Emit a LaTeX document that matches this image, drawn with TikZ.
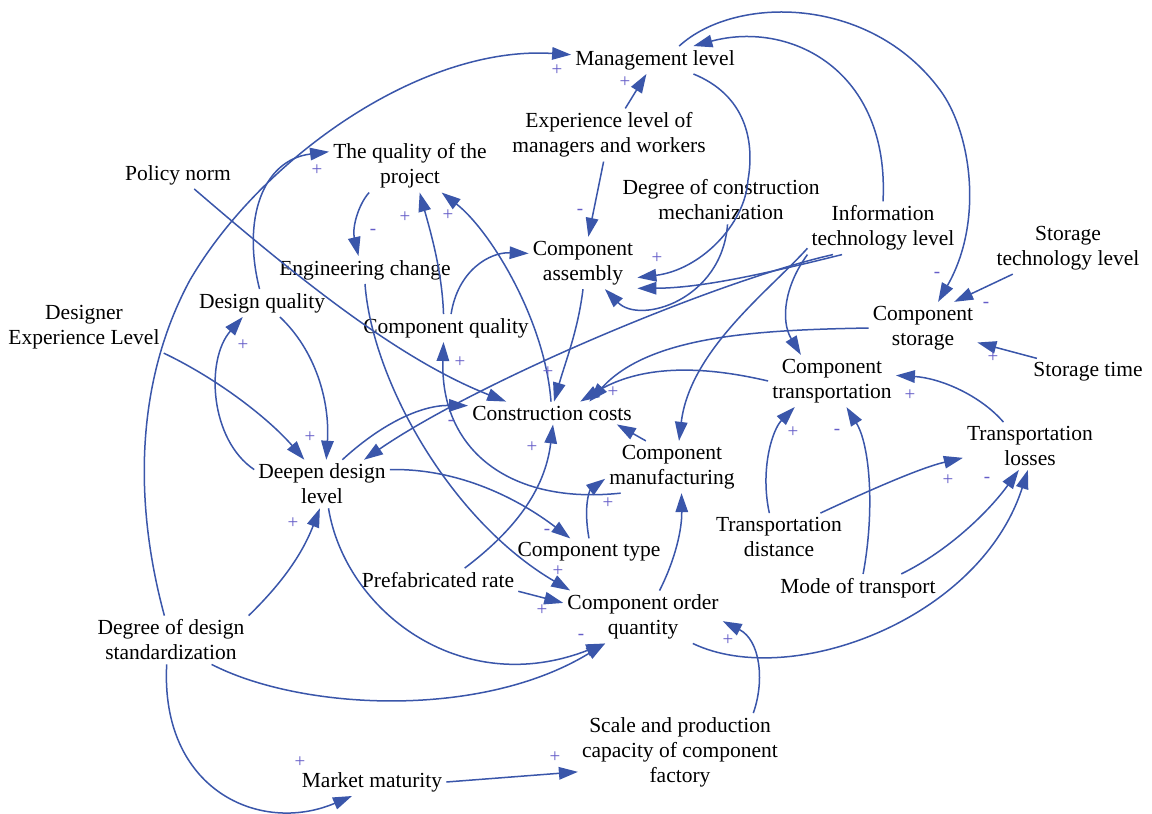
\documentclass[tikz,border=0pt]{standalone}
\usepackage{fontspec}
\setmainfont{Liberation Serif}
\usetikzlibrary{arrows.meta}
\definecolor{lnk}{RGB}{58,86,170}
\definecolor{sgn}{RGB}{100,92,200}
\begin{document}
\begin{tikzpicture}[x=1pt,y=-1pt,
  v/.style={font=\fontsize{21.5}{25}\selectfont, align=center, inner sep=4pt, text=black},
  arr/.style={draw=lnk, line width=1.5pt, -{Triangle[length=19pt,width=12.5pt]}},
  sg/.style={font=\fontsize{19}{19}\selectfont, text=sgn, inner sep=0pt}]
\useasboundingbox[fill=white] (0,0) rectangle (1152,814);
% variables
\node[v] (mgmt) at (655,60) {Management level};
\node[v] (exp) at (609,135) {Experience level of\\managers and workers};
\node[v] (qop) at (410,166) {The quality of the\\project};
\node[v] (policy) at (178,175) {Policy norm};
\node[v] (mech) at (721,200) {Degree of construction\\mechanization};
\node[v] (info) at (883,228) {Information\\technology level};
\node[v] (stech) at (1068,248) {Storage\\technology level};
\node[v] (assem) at (583,263) {Component\\assembly};
\node[v] (engch) at (365,270) {Engineering change};
\node[v] (dq) at (262,303) {Design quality};
\node[v] (dexp) at (84,327) {Designer\\Experience Level};
\node[v] (cq) at (446,328) {Component quality};
\node[v] (stor) at (923,328) {Component\\storage};
\node[v] (trans) at (832,381) {Component\\transportation};
\node[v] (stime) at (1088,372) {Storage time};
\node[v] (cost) at (552,413) {Construction costs};
\node[v] (deep) at (322,484) {Deepen design\\level};
\node[v] (manuf) at (672,467) {Component\\manufacturing};
\node[v] (tloss) at (1030,446) {Transportation\\losses};
\node[v] (tdist) at (779,537) {Transportation\\distance};
\node[v] (ctype) at (589,552) {Component type};
\node[v] (prefab) at (438,580) {Prefabricated rate};
\node[v] (mode) at (858,588) {Mode of transport};
\node[v] (order) at (643,617) {Component order\\quantity};
\node[v] (std) at (171,640) {Degree of design\\standardization};
\node[v] (scale) at (680,752) {Scale and production\\capacity of component\\factory};
\node[v] (market) at (372,782) {Market maturity};
% links
\draw[arr] (std) .. controls (133,500) and (136,380) .. (190,280) .. controls (260,160) and (420,45) .. (mgmt);
\draw[arr] (exp) -- (mgmt);
\draw[arr] (exp) -- (assem);
\draw[arr] (mgmt.-20) .. controls (745,95) and (755,140) .. (748,180) .. controls (745,225) and (700,270) .. (assem.-15);
\draw[arr] (mgmt.30) .. controls (735,-5) and (870,-5) .. (940,90) .. controls (970,130) and (985,220) .. (stor.60);
\draw[arr] (info.north) .. controls (890,70) and (790,20) .. (mgmt.20);
\draw[arr] (info.-147) .. controls (760,275) and (700,288) .. (assem.-25);
\draw[arr] (mech.-75) .. controls (722,300) and (640,325) .. (assem.-50);
\draw[arr] (info.-152) .. controls (720,280) and (480,380) .. (deep.30);
\draw[arr] (info.south west) .. controls (785,285) and (780,320) .. (trans.140);
\draw[arr] (info.-165) .. controls (770,290) and (690,350) .. (manuf.75);
\draw[arr] (stor.west) .. controls (760,330) and (650,335) .. (cost.17);
\draw[arr] (trans.west) .. controls (700,365) and (640,365) .. (cost.22);
\draw[arr] (assem.south) .. controls (578,330) and (566,360) .. (cost.80);
\draw[arr] (cost.95) .. controls (545,320) and (490,230) .. (qop.-40);
\draw[arr] (cq.100) .. controls (442,270) and (430,230) .. (qop.-70);
\draw[arr] (cq.70) .. controls (458,270) and (490,252) .. (assem.170);
\draw[arr] (qop.-147) .. controls (358,205) and (352,228) .. (engch.115);
\draw[arr] (engch.south) .. controls (372,380) and (450,520) .. (order.160);
\draw[arr] (prefab.-8) -- (order.170);
\draw[arr] (prefab.24) .. controls (515,530) and (545,490) .. (cost.-85);
\draw[arr] (dexp.south east) .. controls (220,380) and (270,420) .. (deep.126);
\draw[arr] (dq.-38) .. controls (315,350) and (330,400) .. (deep.80);
\draw[arr] (deep.168) .. controls (210,440) and (205,360) .. (dq.-144);
\draw[arr] (dq.100) .. controls (242,220) and (262,160) .. (qop.170);
\draw[arr] (policy) .. controls (300,280) and (400,360) .. (cost.166);
\draw[arr] (deep.50) .. controls (380,425) and (420,405) .. (cost.175);
\draw[arr] (std.north east) .. controls (275,590) and (300,560) .. (deep.-95);
\draw[arr] (deep.-75) .. controls (345,610) and (460,700) .. (order.-145);
\draw[arr] (std.-31) .. controls (300,710) and (480,720) .. (order.-145);
\draw[arr] (std.-100) .. controls (160,790) and (260,835) .. (market.-145);
\draw[arr] (market.east) -- (scale.-169);
\draw[arr] (scale.28) .. controls (765,680) and (760,640) .. (order.-3);
\draw[arr] (order.-28) .. controls (790,690) and (980,620) .. (tloss.-95);
\draw[arr] (mode.18) .. controls (950,550) and (990,510) .. (tloss.-115);
\draw[arr] (mode.70) .. controls (875,510) and (870,445) .. (trans.-61);
\draw[arr] (tdist.112) .. controls (760,470) and (772,430) .. (trans.-145);
\draw[arr] (tdist.30) .. controls (870,490) and (920,468) .. (tloss.-170);
\draw[arr] (tloss.138) .. controls (980,395) and (940,378) .. (trans.5);
\draw[arr] (stime) -- (stor);
\draw[arr] (stech) -- (stor.40);
\draw[arr] (manuf.135) -- (cost.-10);
\draw[arr] (manuf.-153) .. controls (510,505) and (440,450) .. (cq.-100);
\draw[arr] (ctype.north) .. controls (583,505) and (590,490) .. (manuf.-170);
\draw[arr] (deep.12) .. controls (460,468) and (520,500) .. (ctype.144);
\draw[arr] (order.58) .. controls (675,560) and (682,530) .. (manuf.-70);
% polarity signs
\node[sg] (s1) at (557,70) {+};
\node[sg] (s2) at (625,82) {+};
\node[sg] (s3) at (580,212) {-};
\node[sg] (s4) at (317,170) {+};
\node[sg] (s5) at (373,232) {-};
\node[sg] (s6) at (405,217) {+};
\node[sg] (s7) at (448,215) {+};
\node[sg] (s8) at (657,258) {+};
\node[sg] (s9) at (937,275) {-};
\node[sg] (s10) at (986,305) {-};
\node[sg] (s11) at (993,357) {+};
\node[sg] (s12) at (243,345) {+};
\node[sg] (s13) at (460,362) {+};
\node[sg] (s14) at (548,372) {+};
\node[sg] (s15) at (613,392) {+};
\node[sg] (s16) at (310,437) {+};
\node[sg] (s17) at (451,423) {-};
\node[sg] (s18) at (532,447) {+};
\node[sg] (s19) at (910,395) {+};
\node[sg] (s20) at (793,432) {+};
\node[sg] (s21) at (837,432) {-};
\node[sg] (s22) at (948,480) {+};
\node[sg] (s23) at (987,480) {-};
\node[sg] (s24) at (608,503) {+};
\node[sg] (s25) at (547,532) {-};
\node[sg] (s26) at (293,523) {+};
\node[sg] (s27) at (558,571) {+};
\node[sg] (s28) at (542,610) {+};
\node[sg] (s29) at (581,637) {-};
\node[sg] (s30) at (728,640) {+};
\node[sg] (s31) at (555,757) {+};
\node[sg] (s32) at (300,762) {+};
\end{tikzpicture}
\end{document}
